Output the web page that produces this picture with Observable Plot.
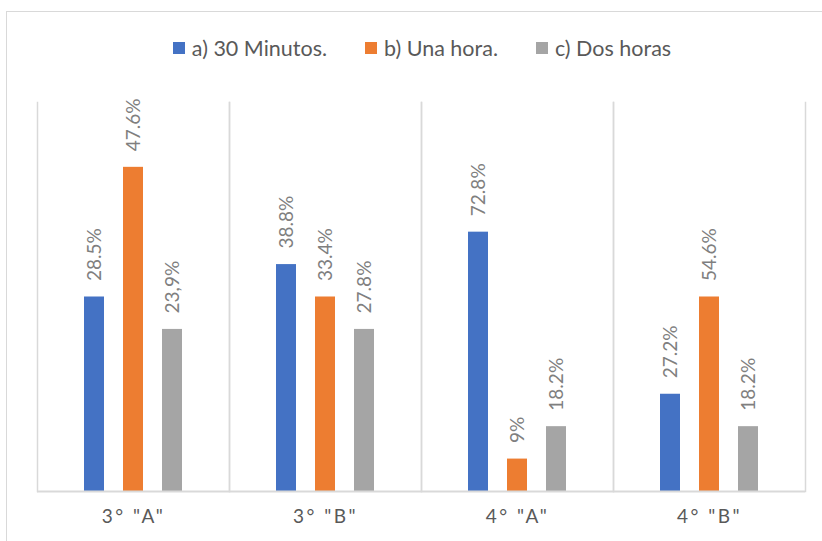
<!DOCTYPE html>
<html>
<head>
<meta charset="utf-8">
<script src="https://cdn.jsdelivr.net/npm/d3@7"></script>
<script src="https://cdn.jsdelivr.net/npm/@observablehq/plot@0.6"></script>
<style>
  html, body { margin: 0; padding: 0; background: #fff; }
  #wrap { position: relative; width: 822px; height: 541px; overflow: hidden; font-family: Lato, "Open Sans", sans-serif; }
  #border { position: absolute; left: 6px; top: 11px; width: 900px; height: 700px; border-top: 1.5px solid #d9d9d9; border-left: 1.5px solid #d9d9d9; }
  #legend { position: absolute; top: 35px; left: 11px; width: 822px; display: flex; justify-content: center; gap: 38px; font-size: 21.5px; color: #595959; }
  #legend .item { display: flex; align-items: center; gap: 7px; }
  #legend .sw { width: 12px; height: 12px; display: inline-block; }
  #chart { position: absolute; top: 80px; left: 0; }
  #chart svg text.cat { letter-spacing: 2.5px; }
</style>
</head>
<body>
<div id="wrap">
  <div id="border"></div>
  <div id="legend"></div>
  <div id="chart"></div>
</div>
<script>
const categories = ['3° "A"', '3° "B"', '4° "A"', '4° "B"'];
const series = ["a) 30 Minutos.", "b) Una hora.", "c) Dos horas"];
const colors = ["#4472C4", "#ED7D31", "#A5A5A5"];
// bar heights (counts) per series, in category order
const values30 = [6, 7, 8, 3];
const valuesHora = [10, 6, 1, 6];
const valuesDos = [5, 5, 2, 2];
// data labels shown above the bars
const labels30 = ["28.5%", "38.8%", "72.8%", "27.2%"];
const labelsHora = ["47.6%", "33.4%", "9%", "54.6%"];
const labelsDos = ["23,9%", "27.8%", "18.2%", "18.2%"];

const allValues = [values30, valuesHora, valuesDos];
const allLabels = [labels30, labelsHora, labelsDos];
const data = [];
categories.forEach((c, i) => {
  series.forEach((s, j) => {
    data.push({category: c, series: s, value: allValues[j][i], label: allLabels[j][i]});
  });
});

// legend
const legend = document.getElementById("legend");
series.forEach((s, j) => {
  const item = document.createElement("div");
  item.className = "item";
  const sw = document.createElement("span");
  sw.className = "sw";
  sw.style.background = colors[j];
  const t = document.createElement("span");
  t.textContent = s;
  item.appendChild(sw);
  item.appendChild(t);
  legend.appendChild(item);
});

const grid = "#d9d9d9";
const chart = Plot.plot({
  width: 822,
  height: 461,
  marginTop: 22,
  marginBottom: 50,
  marginLeft: 36,
  marginRight: 17,
  style: {fontFamily: "Lato, 'Open Sans', sans-serif", background: "transparent"},
  fx: {domain: categories, padding: 0, label: null},
  x: {domain: series, axis: null, paddingInner: 0.48, paddingOuter: 1.164},
  y: {domain: [0, 12], axis: null},
  color: {domain: series, range: colors},
  marks: [
    Plot.frame({anchor: "left", stroke: grid, strokeWidth: 1.5}),
    Plot.frame({anchor: "right", stroke: grid, strokeWidth: 1.5}),
    Plot.barY(data, {fx: "category", x: "series", y: "value", fill: "series"}),
    Plot.ruleY([0], {stroke: grid, strokeWidth: 2}),
    Plot.text(data, {fx: "category", x: "series", y: "value", text: "label", rotate: -90, textAnchor: "start", lineAnchor: "middle", dy: -16, fill: "#7f7f7f", fontSize: 19}),
    Plot.axisFx({anchor: "bottom", tickSize: 0, tickPadding: 18, fontSize: 19, fill: "#595959", label: null})
  ]
});
document.getElementById("chart").appendChild(chart);
document.querySelectorAll("#chart svg g[aria-label='fx-axis tick label'] text").forEach(t => t.setAttribute("class", "cat"));
</script>
</body>
</html>
